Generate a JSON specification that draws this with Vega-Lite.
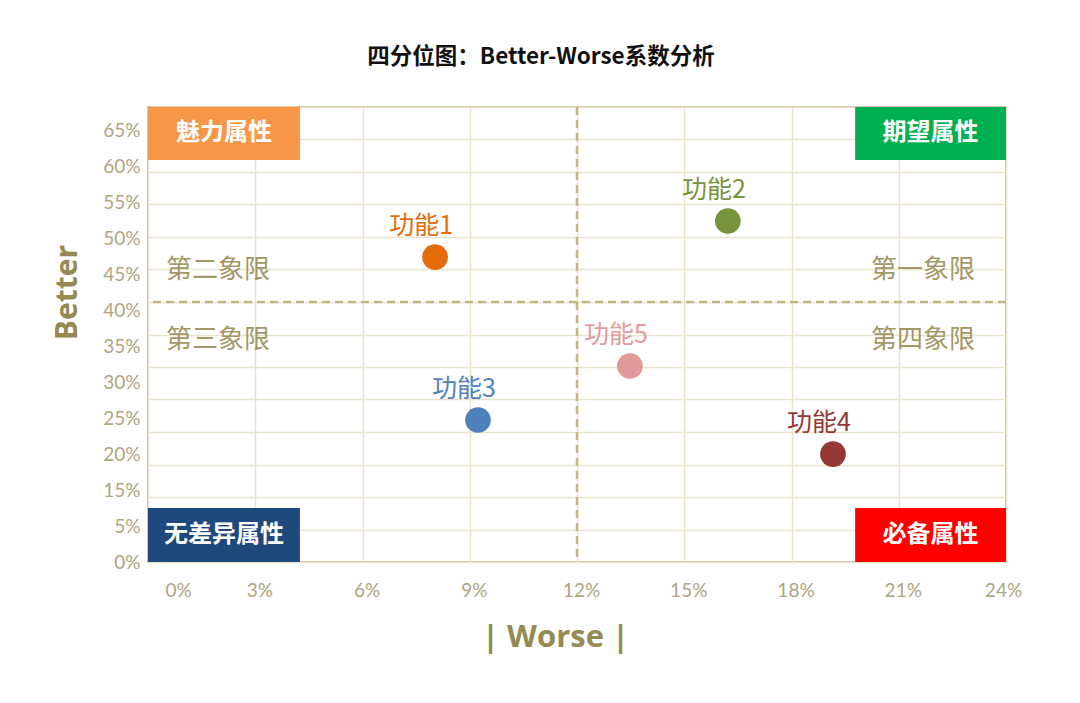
{
  "$schema": "https://vega.github.io/schema/vega-lite/v6.json",
  "width": 858,
  "height": 455,
  "autosize": {"type": "none"},
  "padding": {"left": 148, "top": 107, "right": 74, "bottom": 141},
  "background": "#ffffff",
  "title": {
    "text": "四分位图：Better-Worse系数分析",
    "font": "Noto Sans CJK SC",
    "fontSize": 22.5,
    "fontWeight": "bold",
    "color": "#111111",
    "anchor": "middle",
    "offset": 37,
    "dx": -36
  },
  "config": {
    "view": {"stroke": "#cdc29e", "strokeWidth": 2},
    "font": "Noto Sans CJK SC"
  },
  "datasets": {
    "features": [
      {"feature": "功能1", "worse": 0.0803, "better": 0.469},
      {"feature": "功能2", "worse": 0.1622, "better": 0.5246},
      {"feature": "功能3", "worse": 0.0923, "better": 0.2185},
      {"feature": "功能4", "worse": 0.1916, "better": 0.166},
      {"feature": "功能5", "worse": 0.1348, "better": 0.3015}
    ],
    "attributes": [
      {"attr": "魅力属性", "x0": 0, "x1": 0.0425, "y0": 0.6185, "y1": 0.7},
      {"attr": "期望属性", "x0": 0.1978, "x1": 0.24, "y0": 0.6185, "y1": 0.7},
      {"attr": "无差异属性", "x0": 0, "x1": 0.0425, "y0": 0, "y1": 0.0831},
      {"attr": "必备属性", "x0": 0.1978, "x1": 0.24, "y0": 0, "y1": 0.0831}
    ],
    "quadrants": [
      {"q": "第一象限", "qx": 0.2168, "qy": 0.449},
      {"q": "第二象限", "qx": 0.0196, "qy": 0.449},
      {"q": "第三象限", "qx": 0.0196, "qy": 0.3415},
      {"q": "第四象限", "qx": 0.2168, "qy": 0.3415}
    ],
    "dividers": [
      {"worseMid": 0.12, "betterMid": 0.4}
    ]
  },
  "layer": [
    {
      "layer": [
        {
          "data": {"name": "features"},
          "mark": {"type": "circle", "size": 0, "opacity": 0},
          "encoding": {
            "x": {
              "field": "worse",
              "type": "quantitative",
              "scale": {"domain": [0, 0.24], "nice": false, "zero": false},
              "axis": {
                "values": [0, 0.03, 0.06, 0.09, 0.12, 0.15, 0.18, 0.21, 0.24],
                "tickCount": 30,
                "format": ".0%",
                "grid": true,
                "gridColor": "#e9e3d0",
                "gridWidth": 1.5,
                "ticks": false,
                "domain": false,
                "labelFlush": false,
                "labelFont": "Lato",
                "labelFontSize": 19,
                "labelColor": "#aea581",
                "labelPadding": 19,
                "labelOffset": {
                  "condition": [
                    {"test": "datum.value < 0.01", "value": 30},
                    {"test": "datum.value > 0.23", "value": -3}
                  ],
                  "value": 4
                },
                "title": "| Worse |",
                "titleFont": "Open Sans",
                "titleFontSize": 31,
                "titleFontWeight": "bold",
                "titleColor": "#948a54",
                "titlePadding": 22,
                "titleX": 407
              }
            },
            "y": {
              "field": "better",
              "type": "quantitative",
              "scale": {"domain": [0, 0.7], "nice": false, "zero": false},
              "axis": {
                "values": [0, 0.05, 0.1, 0.15, 0.2, 0.25, 0.3, 0.35, 0.4, 0.45, 0.5, 0.55, 0.6, 0.65, 0.7],
                "tickCount": 30,
                "grid": true,
                "gridColor": "#e9e3d0",
                "gridWidth": 1.5,
                "labels": false,
                "ticks": false,
                "domain": false,
                "title": null
              }
            }
          }
        },
        {
          "data": {"name": "dividers"},
          "mark": {"type": "rule", "color": "#c4b585", "strokeWidth": 2.5, "strokeDash": [8, 5]},
          "encoding": {
            "x": {"field": "worseMid", "type": "quantitative", "scale": {"domain": [0, 0.24], "nice": false, "zero": false}}
          }
        },
        {
          "data": {"name": "dividers"},
          "mark": {"type": "rule", "color": "#c4b585", "strokeWidth": 2.5, "strokeDash": [8, 5]},
          "encoding": {
            "y": {"field": "betterMid", "type": "quantitative", "scale": {"domain": [0, 0.7], "nice": false, "zero": false}}
          }
        },
        {
          "data": {"name": "attributes"},
          "mark": {"type": "rect", "opacity": 1},
          "encoding": {
            "x": {"field": "x0", "type": "quantitative", "scale": {"domain": [0, 0.24], "nice": false, "zero": false}},
            "x2": {"field": "x1"},
            "y": {"field": "y0", "type": "quantitative", "scale": {"domain": [0, 0.7], "nice": false, "zero": false}},
            "y2": {"field": "y1"},
            "fill": {
              "field": "attr",
              "type": "nominal",
              "scale": {"domain": ["魅力属性", "期望属性", "无差异属性", "必备属性"], "range": ["#f79646", "#00b050", "#1f497d", "#ff0000"]},
              "legend": null
            }
          }
        },
        {
          "data": {"name": "attributes"},
          "transform": [
            {"calculate": "(datum.x0 + datum.x1) / 2", "as": "cx"},
            {"calculate": "(datum.y0 + datum.y1) / 2", "as": "cy"}
          ],
          "mark": {"type": "text", "font": "Noto Sans CJK SC", "fontSize": 24, "fontWeight": "bold", "color": "#ffffff", "align": "center", "baseline": "middle"},
          "encoding": {
            "x": {"field": "cx", "type": "quantitative", "scale": {"domain": [0, 0.24], "nice": false, "zero": false}},
            "y": {"field": "cy", "type": "quantitative", "scale": {"domain": [0, 0.7], "nice": false, "zero": false}},
            "text": {"field": "attr"}
          }
        },
        {
          "data": {"name": "quadrants"},
          "mark": {"type": "text", "font": "Noto Sans CJK SC", "fontSize": 26, "color": "#a39866", "align": "center", "baseline": "middle"},
          "encoding": {
            "x": {"field": "qx", "type": "quantitative", "scale": {"domain": [0, 0.24], "nice": false, "zero": false}},
            "y": {"field": "qy", "type": "quantitative", "scale": {"domain": [0, 0.7], "nice": false, "zero": false}},
            "text": {"field": "q"}
          }
        },
        {
          "data": {"name": "features"},
          "mark": {"type": "circle", "size": 660, "opacity": 1},
          "encoding": {
            "x": {"field": "worse", "type": "quantitative", "scale": {"domain": [0, 0.24], "nice": false, "zero": false}},
            "y": {"field": "better", "type": "quantitative", "scale": {"domain": [0, 0.7], "nice": false, "zero": false}},
            "color": {
              "field": "feature",
              "type": "nominal",
              "scale": {"domain": ["功能1", "功能2", "功能3", "功能4", "功能5"], "range": ["#e36c09", "#77933c", "#4f81bd", "#953735", "#e3999c"]},
              "legend": null
            }
          }
        },
        {
          "data": {"name": "features"},
          "mark": {"type": "text", "font": "Noto Sans CJK SC", "fontSize": 25, "dy": -31, "dx": -14, "align": "center", "baseline": "middle"},
          "encoding": {
            "x": {"field": "worse", "type": "quantitative", "scale": {"domain": [0, 0.24], "nice": false, "zero": false}},
            "y": {"field": "better", "type": "quantitative", "scale": {"domain": [0, 0.7], "nice": false, "zero": false}},
            "text": {"field": "feature"},
            "color": {
              "field": "feature",
              "type": "nominal",
              "scale": {"domain": ["功能1", "功能2", "功能3", "功能4", "功能5"], "range": ["#e36c09", "#77933c", "#4f81bd", "#953735", "#e3999c"]},
              "legend": null
            }
          }
        }
      ]
    },
    {
      "data": {"name": "dividers"},
      "mark": {"type": "rule", "opacity": 0},
      "encoding": {
        "y": {
          "datum": 0,
          "type": "quantitative",
          "scale": {"domain": [0, 12.639], "nice": false, "zero": false},
          "axis": {
            "orient": "left",
            "values": [0, 1, 2, 3, 4, 5, 6, 7, 8, 9, 10, 11, 12],
            "tickCount": 30,
            "labelExpr": "['0%','5%','15%','20%','25%','30%','35%','40%','45%','50%','55%','60%','65%'][datum.value]",
            "grid": false,
            "ticks": false,
            "domain": false,
            "labelFont": "Lato",
            "labelFontSize": 19,
            "labelColor": "#aea581",
            "labelPadding": 8,
            "title": "Better",
            "titleFont": "Open Sans",
            "titleFontSize": 30,
            "titleFontWeight": "bold",
            "titleColor": "#948a54",
            "titlePadding": 20,
            "titleY": 185
          }
        }
      }
    }
  ],
  "resolve": {"scale": {"y": "independent"}, "axis": {"y": "independent"}}
}
